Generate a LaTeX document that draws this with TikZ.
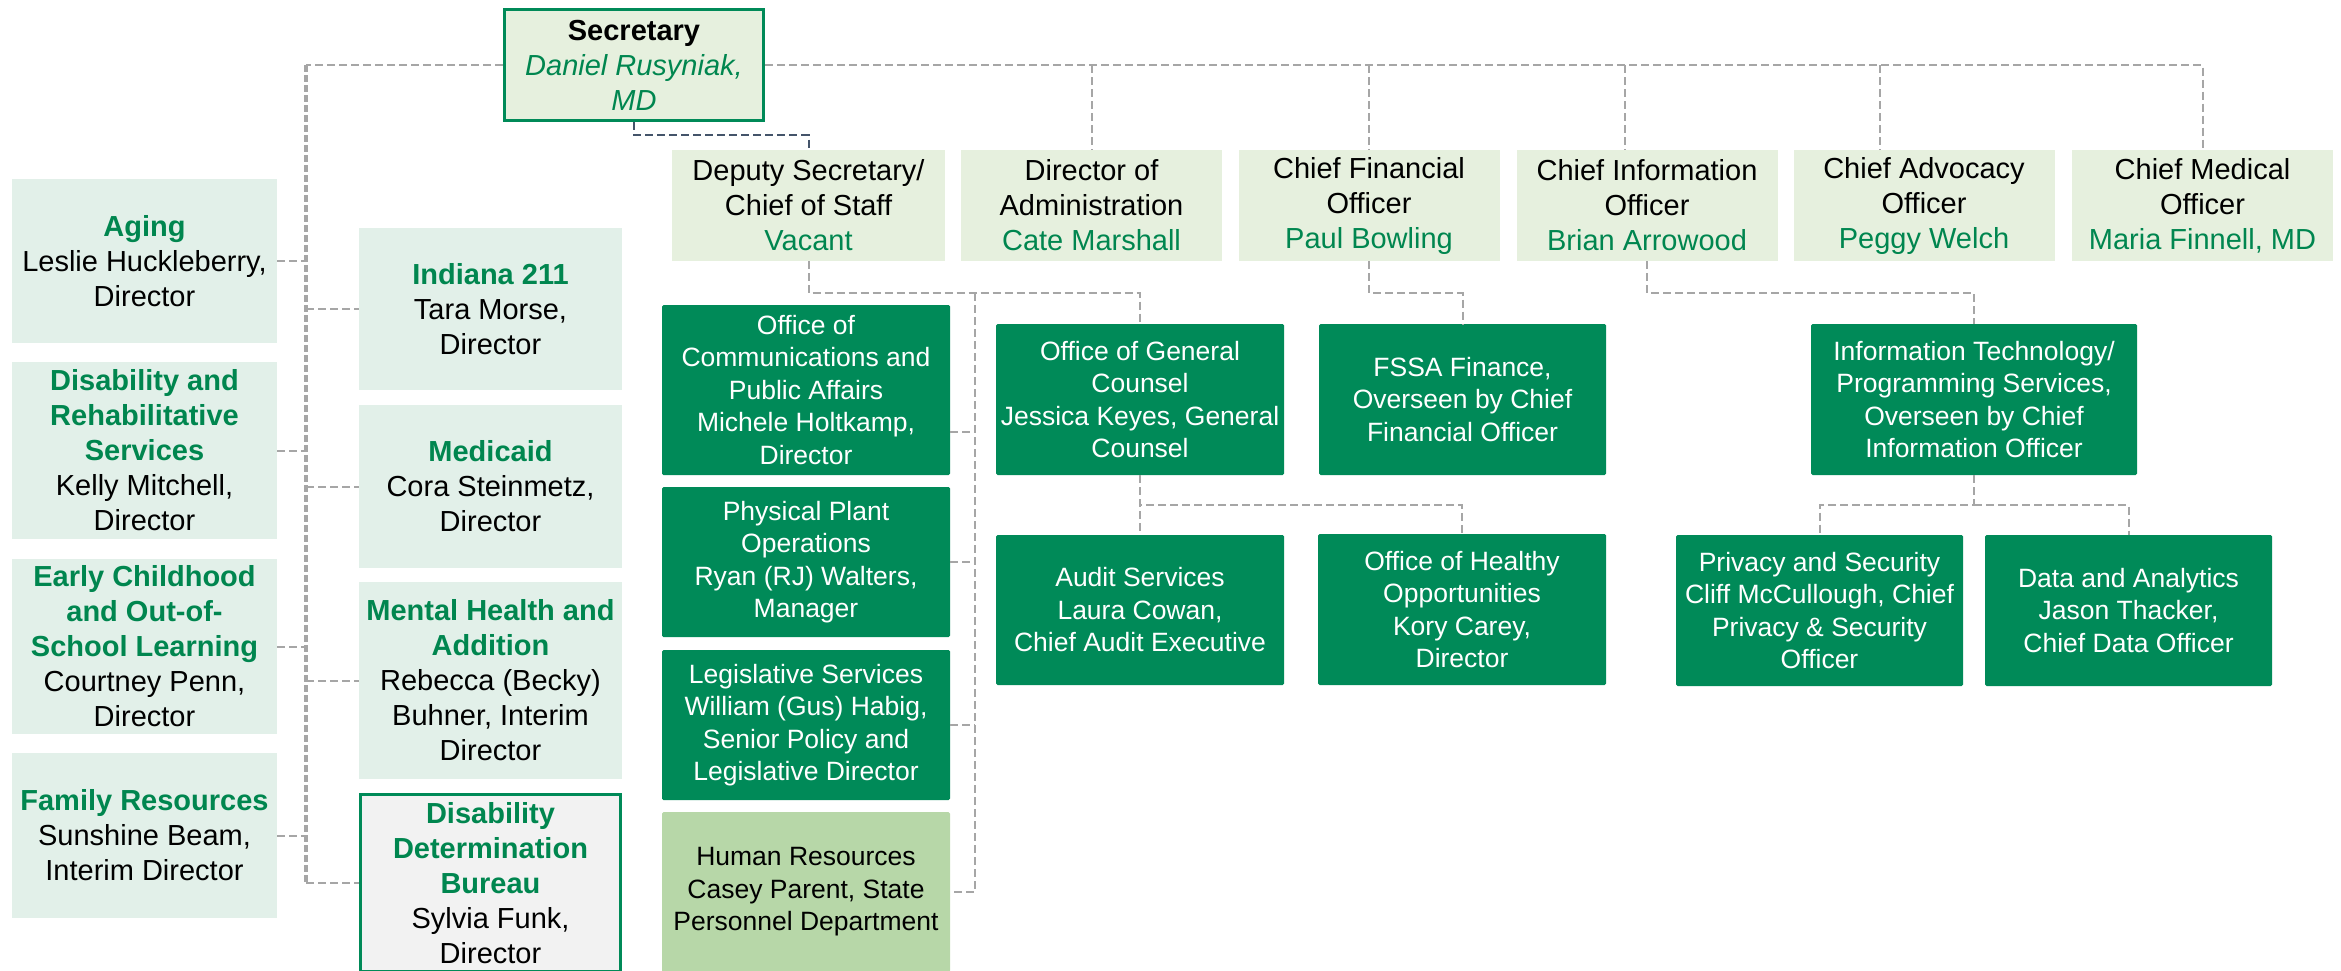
\documentclass[tikz,border=0pt]{standalone}
\usepackage{fontspec}
\setmainfont{Liberation Sans}
\usetikzlibrary{calc}

\definecolor{fsgreen}{HTML}{008A58}
\definecolor{hdgreen}{HTML}{00864F}
\definecolor{topfill}{HTML}{E6F0DE}
\definecolor{mint}{HTML}{E2F0E9}
\definecolor{hrfill}{HTML}{B7D7A8}
\definecolor{ddbfill}{HTML}{F2F2F2}
\definecolor{linegray}{HTML}{A6A6A6}
\definecolor{slate}{HTML}{44546A}

\newcommand{\deptname}[1]{{\bfseries\color{hdgreen}#1}}
\newcommand{\holder}[1]{{\color{hdgreen}#1}}

\begin{document}
\begin{tikzpicture}[x=1pt,y=-1pt,
  every node/.style={inner sep=0pt, align=center, font=\fontsize{29}{35}\selectfont},
  link/.style={draw=linegray, line width=2pt, dash pattern=on 8pt off 4pt},
  trunk/.style={draw=linegray, line width=4pt, dash pattern=on 7pt off 3pt},
  deplink/.style={draw=slate, line width=2pt, dash pattern=on 8pt off 4pt},
  unit/.style={fill=mint, minimum width=265pt},
  chief/.style={fill=topfill, minimum width=261pt, minimum height=111pt},
  office/.style={fill=fsgreen, text=white, minimum width=288pt, minimum height=151pt,
    rounded corners=1.5pt, font=\fontsize{26.5}{32.5}\selectfont}]
\useasboundingbox (0,0) rectangle (2341,970);

%% secretary
\node[draw=fsgreen, line width=3pt, fill=topfill, minimum width=259pt, minimum height=111pt]
  (sec) at (634,65) {\textbf{Secretary}\\\holder{\itshape Daniel Rusyniak,}\\\holder{\itshape MD}};

%% divisions, left columns
\node[unit, minimum height=164pt] (aging) at (144.5,261) {\deptname{Aging}\\Leslie Huckleberry,\\Director};
\node[unit, minimum height=177pt] (disab) at (144.5,450.5) {\deptname{Disability and}\\\deptname{Rehabilitative}\\\deptname{Services}\\Kelly Mitchell,\\Director};
\node[unit, minimum height=175pt] (early) at (144.5,646.5) {\deptname{Early Childhood}\\\deptname{and Out-of-}\\\deptname{School Learning}\\Courtney Penn,\\Director};
\node[unit, minimum height=165pt] (family) at (144.5,835.5) {\deptname{Family Resources}\\Sunshine Beam,\\Interim Director};
\node[unit, minimum width=263pt, minimum height=162pt] (indiana) at (490.5,309) {\deptname{Indiana 211}\\Tara Morse,\\Director};
\node[unit, minimum width=263pt, minimum height=163pt] (medicaid) at (490.5,486.5) {\deptname{Medicaid}\\Cora Steinmetz,\\Director};
\node[unit, minimum width=263pt, minimum height=197pt] (mental) at (490.5,680.5) {\deptname{Mental Health and}\\\deptname{Addition}\\Rebecca (Becky)\\Buhner, Interim\\Director};
\node[draw=fsgreen, line width=3pt, fill=ddbfill, minimum width=260pt, minimum height=177pt]
  (ddb) at (490.5,883) {\deptname{Disability}\\\deptname{Determination}\\\deptname{Bureau}\\Sylvia Funk,\\Director};

%% executive row
\node[chief, minimum width=273pt] (deputy) at (808.5,205.5) {Deputy Secretary/\\Chief of Staff\\\holder{Vacant}};
\node[chief] (admin) at (1091.5,205.5) {Director of\\Administration\\\holder{Cate Marshall}};
\node[chief] (cfo) at (1369,205.5) {Chief Financial\\Officer\\\holder{Paul Bowling}};
\node[chief] (cio) at (1647,205.5) {Chief Information\\Officer\\\holder{Brian Arrowood}};
\node[chief] (cao) at (1924,205.5) {Chief Advocacy\\Officer\\\holder{Peggy Welch}};
\node[chief] (cmo) at (2202.5,205.5) {Chief Medical\\Officer\\\holder{Maria Finnell, MD}};

%% offices
\node[office, minimum height=170pt] (comms) at (806,390) {Office of\\Communications and\\Public Affairs\\Michele Holtkamp,\\Director};
\node[office, minimum height=150pt] (plant) at (806,562) {Physical Plant\\Operations\\Ryan (RJ) Walters,\\Manager};
\node[office, minimum height=150pt] (legis) at (806,725) {Legislative Services\\William (Gus) Habig,\\Senior Policy and\\Legislative Director};
\node[office, fill=hrfill, text=black, minimum height=160pt] (hr) at (806,892) {Human Resources\\Casey Parent, State\\Personnel Department};
\node[office] (ogc) at (1140,399.5) {Office of General\\Counsel\\Jessica Keyes, General\\Counsel};
\node[office, minimum height=150pt] (audit) at (1140,610) {Audit Services\\Laura Cowan,\\Chief Audit Executive};
\node[office, minimum width=287pt] (fssa) at (1462.5,399.5) {FSSA Finance,\\Overseen by Chief\\Financial Officer};
\node[office] (oho) at (1462,609.5) {Office of Healthy\\Opportunities\\Kory Carey,\\Director};
\node[office, minimum width=326pt] (it) at (1974,399.5) {Information Technology/\\Programming Services,\\Overseen by Chief\\Information Officer};
\node[office, minimum width=287pt] (priv) at (1819.5,610.5) {Privacy and Security\\Cliff McCullough, Chief\\Privacy \& Security\\Officer};
\node[office, minimum width=287pt] (data) at (2128.5,610.5) {Data and Analytics\\Jason Thacker,\\Chief Data Officer};

%% reporting lines from the secretary
\coordinate (busL) at (306,65);
\draw[link] (sec.west) -- (busL);
\draw[trunk] (busL) -- (ddb.west -| busL);
\draw[link] (ddb.west -| busL) -- (ddb.west);
\foreach \u in {aging,disab,early,family} \draw[link] (\u.east) -- (\u.east -| busL);
\foreach \u in {indiana,medicaid,mental} \draw[link] (busL |- \u.west) -- (\u.west);
\coordinate (cioT) at ([xshift=-22pt]cio.north);
\coordinate (caoT) at ([xshift=-44pt]cao.north);
\draw[link] (sec.east) -- (cmo.north |- sec.east) -- (cmo.north);
\foreach \u in {admin.north,cfo.north,cioT,caoT} \draw[link] (\u |- sec.east) -- (\u);
\draw[deplink] (sec.south) -- ++(0,13) -| (deputy.north);

%% under the deputy
\draw[link] (deputy.south) -- ++(0,32) coordinate (offbus) -| (ogc.north);
\draw[link] (offbus -| 975,0) -- (hr.east -| 975,0) -- (hr.east);
\coordinate (commsR) at ([yshift=-42pt]comms.east);
\draw[link] (commsR) -- (commsR -| 975,0);
\foreach \u in {plant,legis} \draw[link] (\u.east) -- (\u.east -| 975,0);
\draw[link] (ogc.south) -- (audit.north);
\draw[link] (ogc.south) -- ++(0,30) -| (oho.north);

%% finance and technology
\draw[link] (cfo.south) -- ++(0,32) -| (fssa.north);
\draw[link] (cio.south) -- ++(0,32) -| (it.north);
\draw[link] (it.south) -- ++(0,30) coordinate (itbus) -| (priv.north);
\draw[link] (itbus) -| (data.north);
\end{tikzpicture}
\end{document}
